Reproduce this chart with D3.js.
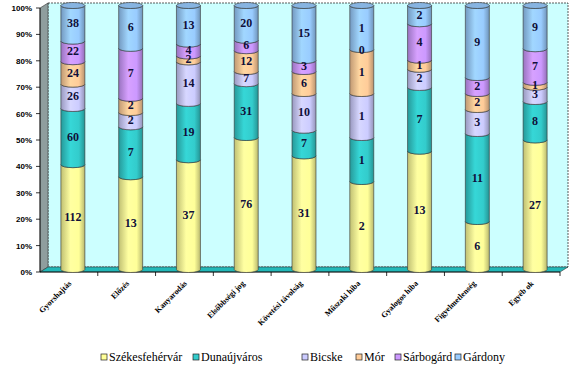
<!DOCTYPE html>
<html><head><meta charset="utf-8">
<script src="https://cdn.jsdelivr.net/npm/d3@7"></script>
<style>body{margin:0;background:#fff}svg{display:block}</style>
</head><body>
<script>
const categories = ["Gyorshajtás","Előzés","Kanyarodás","Elsőbbségi jog","Követési távolság","Műszaki hiba","Gyalogos hiba","Figyelmetlenség","Egyéb ok"];
const seriesNames = ["Székesfehérvár","Dunaújváros","Bicske","Mór","Sárbogárd","Gárdony"];
const szekesfehervar = [112,13,37,76,31,2,13,6,27];
const dunaujvaros = [60,7,19,31,7,1,7,11,8];
const bicske = [26,2,14,7,10,1,2,3,3];
const mor = [24,2,2,12,6,1,1,2,1];
const sarbogard = [22,7,4,6,3,0,4,2,7];
const gardony = [38,6,13,20,15,1,2,9,9];
const yTicks = [0,0.1,0.2,0.3,0.4,0.5,0.6,0.7,0.8,0.9,1];
const colors = ["#ffff99","#33cccc","#ccccff","#ffcc99","#cc99ff","#99ccff"];

const SERIF = "'Liberation Serif', 'Times New Roman', serif";
const SANS = "'Liberation Sans', Arial, sans-serif";

const seriesValues = [szekesfehervar,dunaujvaros,bicske,mor,sarbogard,gardony];
const rows = categories.map((c,i)=>{const o={cat:c}; seriesNames.forEach((s,j)=>o[s]=seriesValues[j][i]); return o;});
const stack = d3.stack().keys(seriesNames).offset(d3.stackOffsetExpand)(rows);

const W=575,H=368;
const svg = d3.select("body").append("svg").attr("width",W).attr("height",H);
const defs = svg.append("defs");
colors.forEach((c,i)=>{
  const g = defs.append("linearGradient").attr("id","g"+i).attr("x1","0").attr("x2","1").attr("y1","0").attr("y2","0");
  g.append("stop").attr("offset","0").attr("stop-color",d3.color(c).darker(0.8));
  g.append("stop").attr("offset","0.4").attr("stop-color",d3.color(c).brighter(0.15));
  g.append("stop").attr("offset","0.75").attr("stop-color",c);
  g.append("stop").attr("offset","1").attr("stop-color",d3.color(c).darker(0.9));
});

const x0=40,x1=560,yB=272,yT=8,dx=8,dy=-5;
const x = d3.scaleBand().domain(categories).range([x0,x1]);
const y = d3.scaleLinear().domain([0,1]).range([yB,yT]);

// back wall
svg.append("rect").attr("x",x0+dx).attr("y",yT+dy).attr("width",x1-x0).attr("height",yB-yT)
  .attr("fill","#ccffff").attr("stroke","#333").attr("stroke-width",0.8).attr("stroke-dasharray","2,1");
// side wall
svg.append("polygon").attr("points",`${x0},${yT} ${x0+dx},${yT+dy} ${x0+dx},${yB+dy} ${x0},${yB}`)
  .attr("fill","#8f9e9e").attr("stroke","#333").attr("stroke-width",0.6);
// floor
svg.append("polygon").attr("points",`${x0},${yB} ${x0+dx},${yB+dy} ${x1+dx},${yB+dy} ${x1},${yB}`)
  .attr("fill","#22b8b8").attr("stroke","#333").attr("stroke-width",0.6);

// y axis
svg.append("line").attr("x1",x0).attr("x2",x0).attr("y1",yT).attr("y2",yB).attr("stroke","#000").attr("stroke-width",0.8);
yTicks.forEach(t=>{
  svg.append("line").attr("x1",x0-4).attr("x2",x0).attr("y1",y(t)).attr("y2",y(t)).attr("stroke","#000").attr("stroke-width",0.8);
  svg.append("text").attr("x",x0-8).attr("y",y(t)+3).attr("text-anchor","end")
    .attr("font-family",SANS).attr("font-weight","bold").attr("font-size",8).text(d3.format(".0%")(t));
});
// x axis
svg.append("line").attr("x1",x0).attr("x2",x1).attr("y1",yB).attr("y2",yB).attr("stroke","#000").attr("stroke-width",0.8);
categories.forEach((c,i)=>{
  const bx = x(c);
  svg.append("line").attr("x1",bx+x.bandwidth()).attr("x2",bx+x.bandwidth()).attr("y1",yB).attr("y2",yB+4).attr("stroke","#000").attr("stroke-width",0.8);
  const cx = bx + x.bandwidth()/2 + 3;
  svg.append("text").attr("transform",`translate(${cx},${yB+12}) rotate(-45)`).attr("text-anchor","end")
    .attr("font-family",SERIF).attr("font-weight","bold").attr("font-size",8).text(c);
});

// cylinders
const rx=12, ry=3;
const gBars = svg.append("g");
categories.forEach((c,i)=>{
  const cx = x(c)+x.bandwidth()/2 + dx/2;
  const l=cx-rx, r=cx+rx;
  stack.forEach((s,j)=>{
    const d=s[i];
    const yb=y(d[0])+dy/2, yt=y(d[1])+dy/2;
    if (yb-yt<0.01) return;
    gBars.append("path")
      .attr("d",`M${l},${yt} L${l},${yb} A${rx},${ry} 0 0 0 ${r},${yb} L${r},${yt} A${rx},${ry} 0 0 1 ${l},${yt} Z`)
      .attr("fill",`url(#g${j})`).attr("stroke","#333").attr("stroke-width",0.6);
  });
  // top cap
  const top = stack[stack.length-1][i];
  gBars.append("ellipse").attr("cx",cx).attr("cy",y(top[1])+dy/2).attr("rx",rx).attr("ry",ry)
    .attr("fill",d3.color(colors[5]).darker(0.35)).attr("stroke","#333").attr("stroke-width",0.6);
  // labels
  stack.forEach((s,j)=>{
    const d=s[i];
    const ym=(y(d[0])+y(d[1]))/2+dy/2;
    gBars.append("text").attr("x",cx).attr("y",ym+4).attr("text-anchor","middle")
      .attr("font-family",SERIF).attr("font-weight","bold").attr("font-size",12)
      .attr("fill","#10103a").text(seriesValues[j][i]);
  });
});

// legend
const legX=[101,193,302,356,395,455];
seriesNames.forEach((s,j)=>{
  svg.append("rect").attr("x",legX[j]).attr("y",354).attr("width",6).attr("height",6)
    .attr("fill",colors[j]).attr("stroke","#222").attr("stroke-width",0.7);
  svg.append("text").attr("x",legX[j]+8).attr("y",361).attr("font-family",SERIF)
    .attr("font-size",12).text(s);
});
</script>
</body></html>
